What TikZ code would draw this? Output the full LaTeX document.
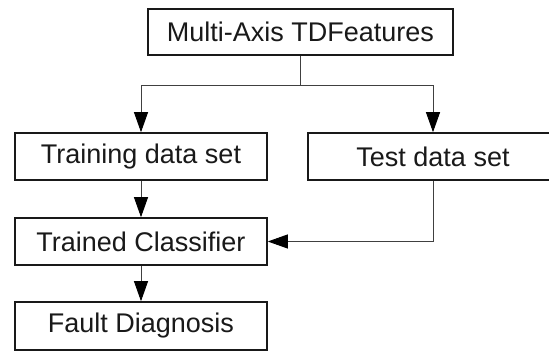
\documentclass[tikz,border=0pt]{standalone}
\usepackage{fontspec}
\setmainfont{Liberation Sans}
\usetikzlibrary{arrows.meta}
\begin{document}
\begin{tikzpicture}[x=1pt,y=-1pt,
  box/.style={draw=black!90, line width=1.6pt, rectangle, inner sep=0pt,
    font=\fontsize{27}{31}\selectfont, text=black!90},
  conn/.style={draw=black!75, line width=0.9pt},
  arr/.style={conn, -{Triangle[length=20pt,width=14pt,fill=black,color=black]}}]
\useasboundingbox (0,0) rectangle (549,352);
\node[box, minimum width=305pt, minimum height=46pt] (top) at (300.5,32) {Multi-Axis TDFeatures};
\node[box, minimum width=252pt, minimum height=47pt] (train) at (141,156.5) {Training data set};
\node[box, minimum width=250pt, minimum height=47pt] (test) at (433,156.5) {Test data set};
\node[box, minimum width=252pt, minimum height=47pt] (clf) at (141,241.5) {Trained Classifier};
\node[box, minimum width=252pt, minimum height=48pt] (fault) at (141,326) {Fault Diagnosis};
\coordinate (j) at (300.5,85);
\draw[conn] (top.south) -- (j);
\draw[arr] (j) -| (train.north);
\draw[arr] (j) -| (test.north);
\draw[arr] (train.south) -- (clf.north);
\draw[arr] (test.south) |- (clf.east);
\draw[arr] (clf.south) -- (fault.north);
\end{tikzpicture}
\end{document}
